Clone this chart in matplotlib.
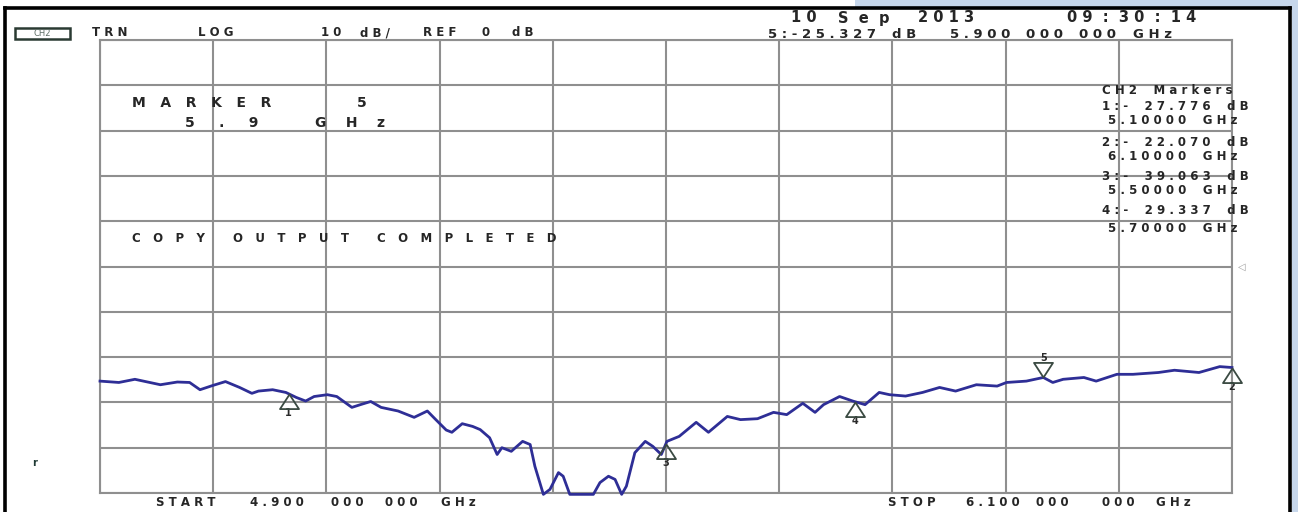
import numpy as np
import matplotlib
matplotlib.use("Agg")
import matplotlib.pyplot as plt
from matplotlib.path import Path
from matplotlib.lines import Line2D
from matplotlib.patches import Rectangle

# ---------------- data ----------------
freq_ghz = [4.900, 4.920, 4.937, 4.964, 4.982, 4.995, 5.006, 5.019, 5.033, 5.048,
            5.061, 5.068, 5.083, 5.097, 5.108, 5.118, 5.127, 5.141, 5.151, 5.167,
            5.176, 5.187, 5.198, 5.216, 5.233, 5.247, 5.255, 5.267, 5.273, 5.284,
            5.295, 5.303, 5.313, 5.321, 5.326, 5.336, 5.348, 5.356, 5.361, 5.370,
            5.377, 5.386, 5.391, 5.398, 5.409, 5.423, 5.430, 5.439, 5.446, 5.453,
            5.458, 5.467, 5.478, 5.486, 5.495, 5.501, 5.514, 5.532, 5.545, 5.565,
            5.579, 5.597, 5.614, 5.628, 5.645, 5.658, 5.667, 5.684, 5.698, 5.711,
            5.726, 5.737, 5.754, 5.772, 5.790, 5.807, 5.829, 5.851, 5.861, 5.882,
            5.900, 5.910, 5.921, 5.943, 5.956, 5.978, 5.995, 6.022, 6.039, 6.065,
            6.087, 6.100]
s21_db = [-25.3, -25.6, -24.9, -26.1, -25.5, -25.6, -27.2, -26.3, -25.4, -26.7,
          -28.0, -27.5, -27.2, -27.8, -28.9, -29.7, -28.7, -28.3, -28.7, -31.1,
          -30.5, -29.8, -31.1, -31.9, -33.3, -31.9, -33.6, -36.1, -36.6, -34.7,
          -35.3, -36.0, -37.8, -41.5, -40.0, -40.8, -38.6, -39.3, -44.1, -50.3,
          -49.2, -45.5, -46.3, -50.3, -50.3, -50.3, -47.7, -46.3, -47.0, -50.3,
          -48.5, -41.1, -38.6, -39.7, -41.5, -38.6, -37.5, -34.4, -36.6, -33.1,
          -33.8, -33.6, -32.2, -32.7, -30.2, -32.2, -30.5, -28.7, -29.7, -30.5,
          -27.8, -28.3, -28.6, -27.8, -26.7, -27.5, -26.1, -26.4, -25.6, -25.3,
          -24.5, -25.6, -24.9, -24.5, -25.3, -23.8, -23.8, -23.4, -22.9, -23.4,
          -22.1, -22.3]

marker_ids = ["1", "2", "3", "4", "5"]
marker_freq = [5.10, 6.10, 5.50, 5.70, 5.90]
active_marker = "5"

start_ghz, stop_ghz = 4.9, 6.1
ref_db, db_per_div, n_div = 0.0, 10.0, 10

# ---------------- figure ----------------
W, H = 1298, 512
fig = plt.figure(figsize=(W / 100, H / 100), dpi=100)
fig.patch.set_facecolor("white")

def fx(px):
    return px / W

def fy(py):
    return 1 - py / H

# light blue page background pieces and black frame
fig.add_artist(Rectangle((fx(855), fy(7)), fx(W - 855), 7 / H, transform=fig.transFigure,
                         facecolor="#c7d7eb", edgecolor="none", zorder=0))
fig.add_artist(Rectangle((fx(1292), 0), fx(6), 1, transform=fig.transFigure,
                         facecolor="#c7d7eb", edgecolor="none", zorder=0))
for xs, ys in [([5, 5], [8, 512]), ([5, 1290], [8, 8]), ([1290, 1290], [8, 512])]:
    fig.add_artist(Line2D([fx(v) for v in xs], [fy(v) for v in ys], transform=fig.transFigure,
                          color="black", lw=2.6, solid_capstyle="projecting", zorder=5))

ax = fig.add_axes([fx(100), fy(493), (1232 - 100) / W, (493 - 40) / H])
ax.set_xlim(start_ghz, stop_ghz)
ax.set_ylim(ref_db - db_per_div * n_div / 2, ref_db + db_per_div * n_div / 2)
ax.set_xticks(np.linspace(start_ghz, stop_ghz, n_div + 1))
ax.set_yticks(np.linspace(ref_db - 50, ref_db + 50, n_div + 1))
ax.tick_params(length=0, labelbottom=False, labelleft=False)
ax.grid(True, color="#8f8f8f", lw=1.5)
for sp in ax.spines.values():
    sp.set_color("#8f8f8f")
    sp.set_linewidth(1.5)

ax.plot(freq_ghz, s21_db, color="#2e2e96", lw=2.0, clip_on=False, zorder=4,
        solid_joinstyle="round")

# markers (triangles with apex on the trace)
up_tri = Path([(0, 0), (-0.65, -1), (0.65, -1), (0, 0)],
              [Path.MOVETO, Path.LINETO, Path.LINETO, Path.CLOSEPOLY])
down_tri = Path([(0, 0), (-0.65, 1), (0.65, 1), (0, 0)],
                [Path.MOVETO, Path.LINETO, Path.LINETO, Path.CLOSEPOLY])
mk_col = "#3a4a42"
for mid, mf in zip(marker_ids, marker_freq):
    val = np.interp(mf, freq_ghz, s21_db)
    active = mid == active_marker
    ax.plot([mf], [val], marker=down_tri if active else up_tri, ms=21, mfc="none",
            mec=mk_col, mew=1.3, clip_on=False, zorder=5, ls="none")
    ax.annotate(mid, (mf, val), xytext=(0, 14 if active else -14), textcoords="offset points",
                ha="center", va="center", fontsize=7, fontweight="bold", color="#2a2a2a",
                annotation_clip=False)

# reference level indicator at right edge
ax.annotate("\u25c1", (stop_ghz, ref_db), xytext=(7, 0), textcoords="offset points",
            ha="center", va="center", fontsize=7, color="#9a9a9a", annotation_clip=False)

# ---------------- texts ----------------
TXT = "#262626"
FONT = "DejaVu Sans"

def put(px, py, s, fs):
    fig.text(fx(px), fy(py), s, fontsize=fs, family=FONT, fontweight="bold",
             ha="left", va="center", color=TXT, zorder=6)

# CH2 box
fig.add_artist(Rectangle((fx(15), fy(39)), 55 / W, 11 / H, transform=fig.transFigure,
                         facecolor="white", edgecolor="#2a3a32", lw=1.8, zorder=6))
fig.text(fx(42.5), fy(33.5), "CH2", fontsize=6, family=FONT, ha="center", va="center",
         color="#607068", zorder=7)

header_tokens = [(92, "T R N"), (198, "L O G"), (321, "1 0"), (360, "d B /"),
                 (423, "R E F"), (481, "0"), (512, "d B")]
for px, s in header_tokens:
    put(px, 33, s, 8.5)

date_tokens = [(791, "1 0"), (838, "S  e  p"), (918, "2 0 1 3"),
               (1067, "0 9  :  3 0  :  1 4")]
for px, s in date_tokens:
    put(px, 18, s, 10.5)

readout_tokens = [(768, "5 : -"), (802, "2 5 . 3 2 7"), (892, "d B"),
                  (950, "5 . 9 0 0"), (1026, "0 0 0"), (1079, "0 0 0"), (1133, "G H z")]
for px, s in readout_tokens:
    put(px, 35, s, 9.5)

put(132, 103, "M   A   R   K   E   R", 10)
put(357, 103, "5", 10)
put(185, 123, "5     .     9", 10)
put(315, 123, "G    H    z", 10)

put(132, 238, "C   O   P   Y", 8.5)
put(233, 238, "O   U   T   P   U   T", 8.5)
put(377, 238, "C   O   M   P   L   E   T   E   D", 8.5)

panel = [(1102, 91, "C H 2    M a r k e r s", 8.5),
         (1102, 107, "1 : -    2 7 . 7 7 6    d B", 8.5), (1108, 120, "5 . 1 0 0 0 0    G H z", 8.5),
         (1102, 143, "2 : -    2 2 . 0 7 0    d B", 8.5), (1108, 156, "6 . 1 0 0 0 0    G H z", 8.5),
         (1102, 177, "3 : -    3 9 . 0 6 3    d B", 8.5), (1108, 190, "5 . 5 0 0 0 0    G H z", 8.5),
         (1102, 210, "4 : -    2 9 . 3 3 7    d B", 8.5), (1108, 228, "5 . 7 0 0 0 0    G H z", 8.5)]
for px, py, s, fs in panel:
    put(px, py, s, fs)

bottom_tokens = [(156, "S T A R T"), (250, "4 . 9 0 0"), (331, "0 0 0"), (385, "0 0 0"),
                 (441, "G H z"), (888, "S T O P"), (966, "6 . 1 0 0"), (1036, "0 0 0"),
                 (1102, "0 0 0"), (1156, "G H z")]
for px, s in bottom_tokens:
    put(px, 503, s, 8.5)

fig.text(fx(35), fy(463), "r", fontsize=7, family=FONT, fontweight="bold", ha="center",
         va="center", color="#1f3a34")

fig.savefig("out.png", dpi=100)
